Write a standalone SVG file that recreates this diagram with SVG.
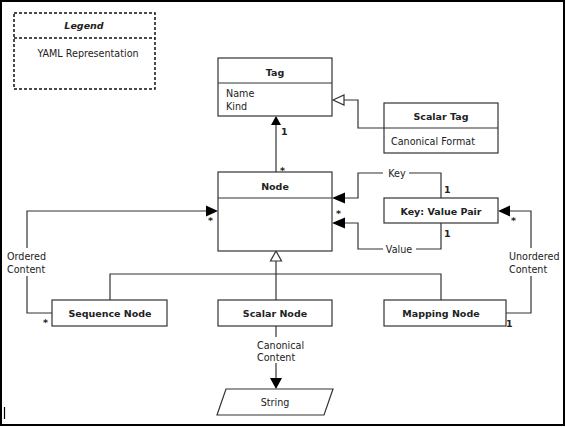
<svg xmlns="http://www.w3.org/2000/svg" width="566" height="427" viewBox="0 0 566 427">
<defs>
<style>
text{font-family:"DejaVu Sans","Verdana",sans-serif;font-size:9.6px;fill:#222}
.b{font-weight:bold;font-size:9.5px;text-anchor:middle}
.c{text-anchor:middle}
.m{font-weight:bold;font-size:9.5px}
.box{fill:#fff;stroke:#333;stroke-width:1.2}
.ln{fill:none;stroke:#333;stroke-width:1.2}
.lg{fill:none;stroke:#111;stroke-width:1.5;stroke-dasharray:3,2}
.lab{fill:#fff;stroke:none}
</style>
</defs>
<rect x="0" y="0" width="566" height="427" fill="#fff"/>
<rect x="1" y="1" width="563" height="424" fill="none" stroke="#000" stroke-width="2"/>
<line x1="4.5" y1="407" x2="4.5" y2="419" stroke="#000" stroke-width="1.2"/>

<g id="legend">
<rect x="14" y="13" width="141" height="76" class="lg"/>
<line x1="14" y1="38" x2="155" y2="38" class="lg"/>
<text x="84" y="29" class="b" font-style="italic">Legend</text>
<text x="88" y="57" class="c">YAML Representation</text>
</g>

<g id="connectors">
<!-- Scalar Tag generalization -->
<polyline points="384,128 358,128 358,100 343,100" class="ln"/>
<polygon points="333,100 344,95 344,105" fill="#fff" stroke="#333" stroke-width="1.2"/>
<!-- Node -> Tag -->
<line x1="276" y1="172" x2="276" y2="124" class="ln"/>
<polygon points="276,116 271,125 281,125" fill="#000"/>
<text x="281" y="135" class="m">1</text>
<text x="280" y="174" class="m">*</text>
<!-- Key -->
<polyline points="441,198 441,173 358,173 358,198 344,198" class="ln"/>
<polygon points="332,198 345,192.5 345,203.5" fill="#000"/>
<rect x="383" y="167" width="26" height="12" class="lab"/>
<text x="397" y="177" class="c">Key</text>
<text x="444" y="193" class="m">1</text>
<!-- Value -->
<polyline points="441,223 441,249 358,249 358,223 344,223" class="ln"/>
<polygon points="332,223 345,217.5 345,228.5" fill="#000"/>
<rect x="383" y="243" width="33" height="12" class="lab"/>
<text x="399" y="253" class="c">Value</text>
<text x="444" y="237" class="m">1</text>
<text x="336" y="217" class="m">*</text>
<!-- Ordered Content -->
<polyline points="52,313 27,313 27,211 207,211" class="ln"/>
<polygon points="218,211 206,205.5 206,216.5" fill="#000"/>
<rect x="6" y="248" width="44" height="28" class="lab"/>
<text x="7" y="260">Ordered</text>
<text x="7" y="273">Content</text>
<text x="208" y="224" class="m">*</text>
<text x="43" y="326" class="m">*</text>
<!-- Unordered Content -->
<polyline points="506,313 531,313 531,211 510,211" class="ln"/>
<polygon points="498,211 510,205.5 510,216.5" fill="#000"/>
<rect x="508" y="248" width="53" height="28" class="lab"/>
<text x="509" y="260">Unordered</text>
<text x="509" y="273">Content</text>
<text x="511" y="224" class="m">*</text>
<text x="506" y="327" class="m">1</text>
<!-- Node generalization -->
<polyline points="110,300 110,274 441,274 441,300" class="ln"/>
<line x1="276" y1="300" x2="276" y2="261" class="ln"/>
<polygon points="276,251 270.5,261 281.5,261" fill="#fff" stroke="#333" stroke-width="1.2"/>
<!-- Scalar Node -> String -->
<line x1="276" y1="326" x2="276" y2="380" class="ln"/>
<polygon points="276,389 270,378 282,378" fill="#000"/>
<rect x="255" y="337" width="50" height="26" class="lab"/>
<text x="257" y="349">Canonical</text>
<text x="257" y="361">Content</text>
</g>

<g id="tag">
<rect x="218" y="58" width="114" height="58" class="box"/>
<line x1="218" y1="83" x2="332" y2="83" class="ln"/>
<text x="275" y="76" class="b">Tag</text>
<text x="226" y="97">Name</text>
<text x="226" y="110">Kind</text>
</g>

<g id="scalar-tag">
<rect x="384" y="103" width="114" height="50" class="box"/>
<line x1="384" y1="128" x2="498" y2="128" class="ln"/>
<text x="441" y="120" class="b">Scalar Tag</text>
<text x="391" y="145">Canonical Format</text>
</g>

<g id="node">
<rect x="218" y="172" width="114" height="79" class="box"/>
<line x1="218" y1="198" x2="332" y2="198" class="ln"/>
<text x="275" y="190" class="b">Node</text>
</g>

<g id="key-value-pair">
<rect x="384" y="198" width="114" height="25" class="box"/>
<text x="441" y="215" class="b">Key: Value Pair</text>
</g>

<g id="sequence-node">
<rect x="52" y="300" width="115" height="26" class="box"/>
<text x="110" y="317" class="b">Sequence Node</text>
</g>

<g id="scalar-node">
<rect x="218" y="300" width="114" height="26" class="box"/>
<text x="275" y="317" class="b">Scalar Node</text>
</g>

<g id="mapping-node">
<rect x="384" y="300" width="122" height="26" class="box"/>
<text x="441" y="317" class="b">Mapping Node</text>
</g>

<g id="string">
<polygon points="226,389 333,389 324,415 217,415" class="box"/>
<text x="275" y="406" class="c">String</text>
</g>
</svg>
